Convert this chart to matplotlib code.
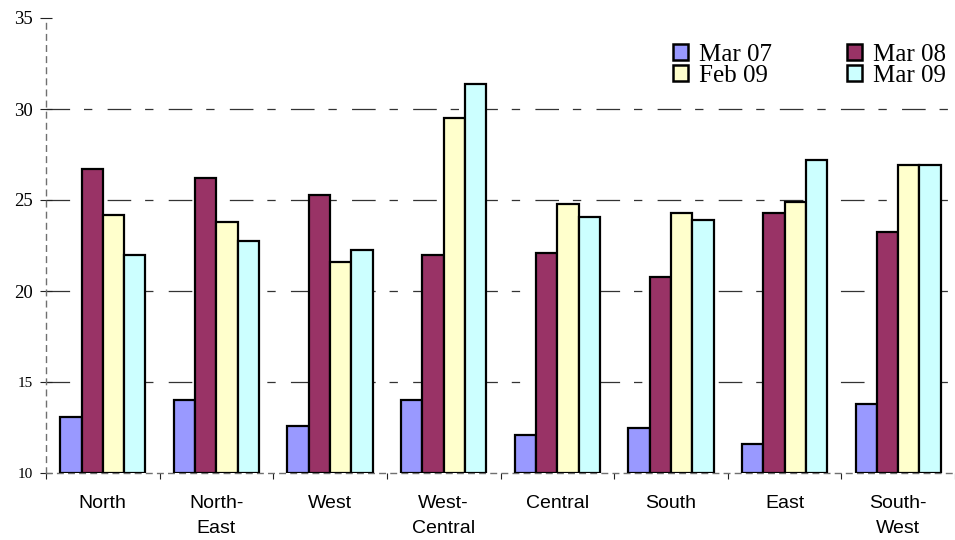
import matplotlib
matplotlib.use("Agg")
import matplotlib.pyplot as plt
import numpy as np

regions = ["North", "North-\nEast", "West", "West-\nCentral", "Central", "South", "East", "South-\nWest"]
series_names = ["Mar 07", "Mar 08", "Feb 09", "Mar 09"]
mar07 = [13.1, 14.0, 12.6, 14.0, 12.1, 12.5, 11.6, 13.8]
mar08 = [26.7, 26.2, 25.3, 22.0, 22.1, 20.75, 24.3, 23.25]
feb09 = [24.2, 23.8, 21.6, 29.5, 24.8, 24.3, 24.9, 26.95]
mar09 = [22.0, 22.75, 22.25, 31.4, 24.05, 23.9, 27.2, 26.95]
colors = ["#9999FF", "#993366", "#FFFFCC", "#CCFFFF"]
yticks = [10, 15, 20, 25, 30, 35]
title = "Average price by region, (Rs/kg)"

plt.rcParams['lines.scale_dashes'] = False
fig = plt.figure(figsize=(9.55, 5.4), dpi=100)
ax = fig.add_axes([46/955, 1-473/540, 1-46/955, (473-18)/540])

x = np.arange(len(regions))
w = 0.1875
data = [mar07, mar08, feb09, mar09]
base = 10
bars = []
for i, (vals, c, name) in enumerate(zip(data, colors, series_names)):
    b = ax.bar(x + (i-1.5)*w, np.array(vals)-base, width=w, bottom=base, color=c,
               edgecolor="black", linewidth=1.6, label=name, zorder=3)
    bars.append(b)

ax.set_xlim(-0.5, len(regions)-0.5)
ax.set_ylim(10, 35)

# gridlines
for yv in [15, 20, 25, 30]:
    ax.axhline(yv, color="#333333", linewidth=0.9, dashes=(17, 10, 6, 11), zorder=1)

for s in ["top", "right"]:
    ax.spines[s].set_visible(False)
for s in ["left", "bottom"]:
    ax.spines[s].set_color("#707070")
    ax.spines[s].set_linewidth(1.0)
    ax.spines[s].set_linestyle((0, (4, 4)))
    ax.spines[s].set_zorder(2)

ax.set_yticks(yticks)
ax.set_yticklabels([str(v) for v in yticks], family="Liberation Serif", fontsize=13.5)
for lab, v in zip(ax.get_yticklabels(), yticks):
    if v < 20:
        lab.set_fontsize(11)
ax.tick_params(axis="y", direction="inout", length=9, width=0.8, color="#222222", pad=5)

ax.set_xticks(x)
ax.set_xticklabels(regions, family="Liberation Sans", fontsize=14, linespacing=1.6)
ax.set_xticks(np.arange(len(regions)+1) - 0.5, minor=True)
ax.tick_params(axis="x", which="major", length=0, pad=16)
ax.tick_params(axis="x", which="minor", direction="out", length=4, width=0.8, color="#222222")

order = [0, 2, 1, 3]
leg = ax.legend([bars[k] for k in order], [series_names[k] for k in order],
                ncol=2, loc="upper right", bbox_to_anchor=(946/955, 1-44/540),
                bbox_transform=fig.transFigure, frameon=False,
                prop={"family": "Liberation Serif", "size": 18},
                handlelength=0.6, handleheight=0.6, handletextpad=0.45,
                columnspacing=3.0, labelspacing=-0.05, borderpad=0, borderaxespad=0)
for h in leg.legend_handles:
    h.set_linewidth(1.8)

fig.text(762/955, 1 + 5/540, title, ha="right", va="baseline",
         family="Liberation Serif", fontweight="bold", fontsize=14)

fig.savefig("out.png", dpi=100)
